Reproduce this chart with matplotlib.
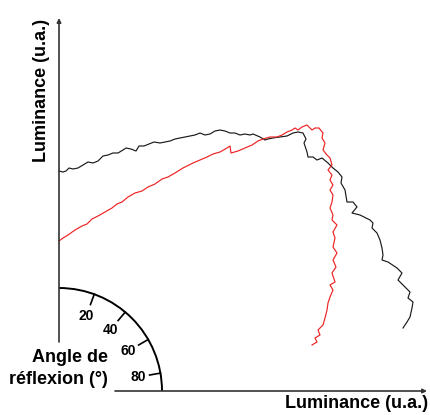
import numpy as np
import matplotlib
matplotlib.use("Agg")
import matplotlib.pyplot as plt
from matplotlib.patches import Arc

plt.rcParams['font.family'] = ['Liberation Sans', 'DejaVu Sans']

# curve values (luminance units, origin at the axes corner)
black_x = [0, 4, 7, 10, 14, 19, 24, 29, 34, 39, 44, 49, 54, 59, 64, 67, 72, 77, 80, 85,
           90, 95, 101, 106, 111, 116, 121, 126, 131, 136, 141, 146, 151, 156, 161, 166,
           171, 176, 181, 186, 191, 194, 201, 206, 209, 214, 221, 228, 234, 239, 244, 247,
           245, 248, 249, 254, 258, 263, 269, 274, 279, 283, 282, 286, 288, 294, 298, 293,
           301, 311, 314, 313, 318, 321, 323, 324, 323, 329, 338, 343, 339, 344, 351, 349,
           354, 353, 351, 348, 344]
black_y = [220, 219, 220, 223, 222, 223, 226, 229, 228, 230, 235, 236, 238, 238, 241, 243,
           242, 240, 245, 245, 247, 249, 248, 249, 250, 252, 253, 254, 255, 256, 258, 256,
           257, 260, 261, 260, 258, 258, 256, 257, 256, 257, 254, 251, 252, 253, 254, 255,
           258, 259, 258, 252, 248, 239, 234, 234, 231, 233, 228, 223, 219, 214, 208, 201,
           189, 189, 184, 178, 176, 171, 168, 163, 158, 151, 143, 136, 131, 129, 123, 118,
           111, 106, 99, 93, 89, 83, 74, 69, 63]

red_x = [0, 4, 9, 16, 23, 28, 33, 39, 46, 53, 58, 63, 69, 76, 83, 89, 96, 103, 109, 116,
         124, 134, 141, 148, 154, 161, 168, 171, 172, 179, 186, 193, 199, 204, 211, 218,
         223, 228, 233, 236, 239, 243, 248, 253, 256, 260, 264, 263, 266, 264, 268, 271,
         273, 269, 273, 271, 274, 271, 274, 273, 271, 274, 273, 278, 274, 276, 274, 278,
         274, 277, 273, 276, 271, 274, 271, 269, 268, 266, 264, 259, 261, 256, 258, 253]
red_y = [150, 153, 156, 161, 165, 167, 172, 175, 179, 183, 187, 189, 194, 198, 200, 204,
         207, 212, 214, 218, 223, 228, 231, 234, 237, 239, 243, 245, 238, 240, 243, 246,
         250, 252, 254, 254, 256, 259, 261, 263, 261, 264, 266, 261, 263, 263, 258, 253,
         248, 241, 236, 233, 226, 221, 216, 211, 206, 201, 196, 189, 183, 176, 171, 166,
         159, 153, 144, 138, 131, 124, 118, 109, 106, 101, 94, 88, 81, 73, 66, 61, 56,
         53, 49, 46]

angle_ticks = [20, 40, 60, 80]   # degrees from the vertical axis
arc_radius = 103

fig = plt.figure(figsize=(4.30, 4.15), dpi=100)
ax = fig.add_axes([0, 0, 1, 1])
ax.set_xlim(-59, 371)
ax.set_ylim(-24, 391)
ax.axis('off')

# axes with small arrow heads
arrow = dict(arrowstyle='-|>', color='#333333', lw=1.2, mutation_scale=6,
             shrinkA=0, shrinkB=0)
ax.annotate('', xy=(0, 373), xytext=(0, 49), arrowprops=arrow)
ax.annotate('', xy=(368, 0), xytext=(56, 0), arrowprops=arrow)

# angle scale (quarter circle)
ax.add_patch(Arc((0, 0), 2 * arc_radius, 2 * arc_radius, theta1=0, theta2=90,
                 color='black', lw=1.4))
for a in angle_ticks:
    s, c = np.sin(np.radians(a)), np.cos(np.radians(a))
    ax.plot([arc_radius * s, (arc_radius - 11) * s],
            [arc_radius * c, (arc_radius - 11) * c], color='black', lw=1.2)
    ax.text(80 * s, 80 * c, str(a), ha='center', va='center',
            fontsize=10, fontweight='bold')

ax.plot(black_x, black_y, color='#1a1a1a', lw=0.85)
ax.plot(red_x, red_y, color='#ee2222', lw=0.85)

ax.text(-17, 301, 'Luminance (u.a.)', rotation=90, ha='center', va='center',
        fontsize=13, fontweight='bold')
ax.text(298, -12, 'Luminance (u.a.)', ha='center', va='center',
        fontsize=13, fontweight='bold')
ax.text(49, 34, 'Angle de', ha='right', va='center', fontsize=13, fontweight='bold')
ax.text(49, 12, 'réflexion (°)', ha='right', va='center', fontsize=13,
        fontweight='bold')

fig.savefig('out.png', dpi=100)
